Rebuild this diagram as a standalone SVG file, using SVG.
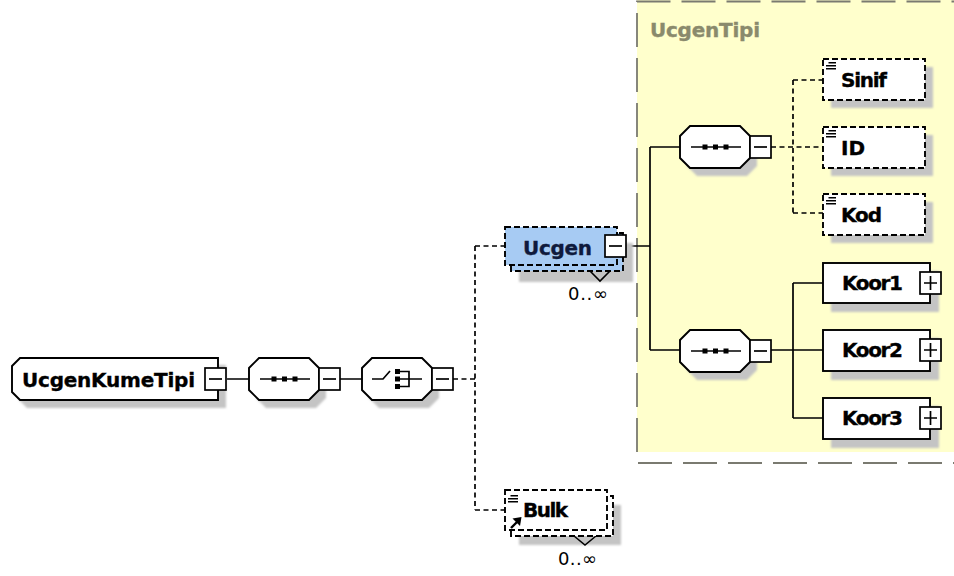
<svg xmlns="http://www.w3.org/2000/svg" xmlns:xlink="http://www.w3.org/1999/xlink" width="954" height="576" viewBox="0 0 954 576">
  <style>
    .lbl { font-family: "DejaVu Sans", Verdana, sans-serif; font-weight: bold; font-size: 20px; fill: #000; stroke: #000; stroke-width: 0.35; }
    .sel { fill: #0f1a3c; stroke: #0f1a3c; }
    .type { fill: #8a8a6c; stroke: #8a8a6c; }
    .occ { font-family: "DejaVu Sans", Verdana, sans-serif; font-size: 18px; fill: #000; }
    .shadow { fill: #c4c4c4; stroke: none; filter: url(#soft); }
    .box { fill: #fff; stroke: #000; stroke-width: 1.9; }
    .blue { fill: #a7cbf3; stroke: #000; stroke-width: 1.9; }
    .opt { stroke-dasharray: 6 3; }
    .wire { fill: none; stroke: #000; stroke-width: 1.7; }
    .dash { stroke-dasharray: 5 3.5; }
    .ink { fill: #000; stroke: none; }
    .frame { fill: none; stroke: #7a7a70; stroke-width: 1.8; stroke-dasharray: 34 11; }
  </style>
  <defs>
    <filter id="soft" x="-10%" y="-10%" width="120%" height="120%">
      <feGaussianBlur stdDeviation="1"/>
    </filter>
    <!-- compositor outline (70 x 42) -->
    <path id="oct" d="M0,10 L10,0 H60 L70,10 V32 L60,42 H10 L0,32 Z"/>
    <!-- sequence glyph -->
    <g id="seqIcon">
      <path d="M11,21 H61" fill="none" stroke="#000" stroke-width="1.7"/>
      <rect x="22.5" y="18.5" width="5" height="5" fill="#000"/>
      <rect x="33" y="18.5" width="5" height="5" fill="#000"/>
      <rect x="43.5" y="18.5" width="5" height="5" fill="#000"/>
    </g>
    <!-- choice glyph -->
    <g id="choiceIcon" fill="none" stroke="#000" stroke-width="1.7">
      <path d="M10,21 H21 L28,13"/>
      <rect x="33" y="11" width="5" height="5" fill="#000" stroke="none"/>
      <rect x="33" y="18.5" width="5" height="5" fill="#000" stroke="none"/>
      <rect x="33" y="26" width="5" height="5" fill="#000" stroke="none"/>
      <path d="M38,13.5 H47 V28.5 H38 M38,21 H60"/>
    </g>
    <!-- collapse / expand buttons -->
    <g id="minus">
      <rect x="0" y="0" width="21" height="22" fill="#fff" stroke="#000" stroke-width="1.7"/>
      <path d="M4,11 H17" stroke="#000" stroke-width="1.7"/>
    </g>
    <g id="plus">
      <rect x="0" y="0" width="21" height="22" fill="#fff" stroke="#000" stroke-width="1.7"/>
      <path d="M4,11 H17 M10.5,4 V18" stroke="#000" stroke-width="1.7"/>
    </g>
    <!-- simple-content mark -->
    <g id="textMark" stroke="#000" stroke-width="1.6">
      <path d="M2.5,0.8 H10 M0,3.8 H10 M0,6.8 H10"/>
    </g>
  </defs>

  <!-- complex type frame -->
  <g id="UcgenTipi">
    <rect x="637" y="0" width="320" height="452" fill="#ffffcc"/>
    <path class="frame" d="M637,452 V1.5 H954"/>
    <path class="frame" d="M638,463 H954"/>
    <text class="lbl type" x="650" y="37" textLength="110">UcgenTipi</text>
  </g>

  <!-- connectors -->
  <g id="connectors">
    <path class="wire" d="M227,379 H249 M340,379 H362"/>
    <path class="wire dash" d="M453,379 H475 M475,246 V510 M475,246 H505 M475,510 H505"/>
    <path class="wire" d="M627,246 H650 M650,147 V350 M650,147 H680 M650,350 H680"/>
    <path class="wire dash" d="M771,147 H823 M793,80 V213 M793,80 H823 M793,213 H823"/>
    <path class="wire" d="M771,350 H793 M793,283 V418 M793,283 H823 M793,350 H823 M793,418 H823"/>
  </g>

  <!-- root element -->
  <g id="UcgenKumeTipi">
    <path class="shadow" d="M19,373 L27,365 H226 V408 H27 L19,400 Z"/>
    <path class="box" d="M12,366 L20,358 H218 V400 H20 L12,392 Z"/>
    <text class="lbl" x="22" y="387" textLength="173">UcgenKumeTipi</text>
    <use xlink:href="#minus" x="205" y="368"/>
  </g>

  <!-- sequence -->
  <g id="seqRoot">
    <use xlink:href="#oct" class="shadow" x="256" y="366"/>
    <use xlink:href="#oct" class="box" x="249" y="358"/>
    <use xlink:href="#seqIcon" x="249" y="358"/>
    <use xlink:href="#minus" x="319" y="368"/>
  </g>

  <!-- choice -->
  <g id="choiceRoot">
    <use xlink:href="#oct" class="shadow" x="369" y="366"/>
    <use xlink:href="#oct" class="box" x="362" y="358"/>
    <use xlink:href="#choiceIcon" x="362" y="358"/>
    <use xlink:href="#minus" x="432" y="368"/>
  </g>

  <!-- Ucgen element, 0..unbounded -->
  <g id="Ucgen">
    <rect class="shadow" x="519" y="243" width="114" height="39"/>
    <path d="M590,271 L600,281 L610,271" fill="none" stroke="#000" stroke-width="1.6"/>
    <rect class="blue opt" x="511" y="233" width="112" height="38"/>
    <rect class="blue opt" x="505" y="227" width="112" height="38"/>
    <text class="lbl sel" x="523" y="255" textLength="69">Ucgen</text>
    <use xlink:href="#minus" x="605" y="235"/>
    <text class="occ" x="568" y="300" textLength="40">0..∞</text>
  </g>

  <!-- Bulk reference, 0..unbounded -->
  <g id="Bulk">
    <rect class="shadow" x="519" y="505" width="102" height="40"/>
    <path d="M574,536 L585,545 L596,536" fill="none" stroke="#000" stroke-width="1.6"/>
    <rect class="box opt" x="511" y="496" width="102" height="40"/>
    <rect class="box opt" x="505" y="490" width="102" height="40"/>
    <use xlink:href="#textMark" x="508" y="495"/>
    <path d="M511,528 L517,522" stroke="#000" stroke-width="2.4"/>
    <polygon class="ink" points="521.5,517 512.5,518.5 520,526"/>
    <text class="lbl" x="523" y="517" textLength="45">Bulk</text>
    <text class="occ" x="558" y="565" textLength="39">0..∞</text>
  </g>

  <!-- sequence inside UcgenTipi (optional fields) -->
  <g id="seqFields">
    <use xlink:href="#oct" class="shadow" x="687" y="134"/>
    <use xlink:href="#oct" class="box" x="680" y="126"/>
    <use xlink:href="#seqIcon" x="680" y="126"/>
    <use xlink:href="#minus" x="750" y="136"/>
  </g>

  <g id="Sinif">
    <rect class="shadow" x="831" y="67" width="102" height="41"/>
    <rect class="box opt" x="823" y="59" width="102" height="41"/>
    <use xlink:href="#textMark" x="826" y="62"/>
    <text class="lbl" x="841" y="87" textLength="46">Sinif</text>
  </g>

  <g id="ID">
    <rect class="shadow" x="831" y="135" width="102" height="41"/>
    <rect class="box opt" x="823" y="127" width="102" height="41"/>
    <use xlink:href="#textMark" x="826" y="130"/>
    <text class="lbl" x="841" y="155">ID</text>
  </g>

  <g id="Kod">
    <rect class="shadow" x="831" y="202" width="102" height="41"/>
    <rect class="box opt" x="823" y="194" width="102" height="41"/>
    <use xlink:href="#textMark" x="826" y="197"/>
    <text class="lbl" x="841" y="222" textLength="41">Kod</text>
  </g>

  <!-- sequence inside UcgenTipi (coordinates) -->
  <g id="seqKoor">
    <use xlink:href="#oct" class="shadow" x="687" y="338"/>
    <use xlink:href="#oct" class="box" x="680" y="330"/>
    <use xlink:href="#seqIcon" x="680" y="330"/>
    <use xlink:href="#minus" x="750" y="340"/>
  </g>

  <g id="Koor1">
    <rect class="shadow" x="831" y="271" width="108" height="41"/>
    <rect class="box" x="823" y="263" width="107" height="40"/>
    <text class="lbl" x="842" y="290" textLength="61">Koor1</text>
    <use xlink:href="#plus" x="920" y="272"/>
  </g>

  <g id="Koor2">
    <rect class="shadow" x="831" y="338" width="108" height="42"/>
    <rect class="box" x="823" y="330" width="107" height="41"/>
    <text class="lbl" x="842" y="357" textLength="61">Koor2</text>
    <use xlink:href="#plus" x="920" y="339"/>
  </g>

  <g id="Koor3">
    <rect class="shadow" x="831" y="406" width="108" height="42"/>
    <rect class="box" x="823" y="398" width="107" height="41"/>
    <text class="lbl" x="842" y="425" textLength="61">Koor3</text>
    <use xlink:href="#plus" x="920" y="407"/>
  </g>
</svg>
